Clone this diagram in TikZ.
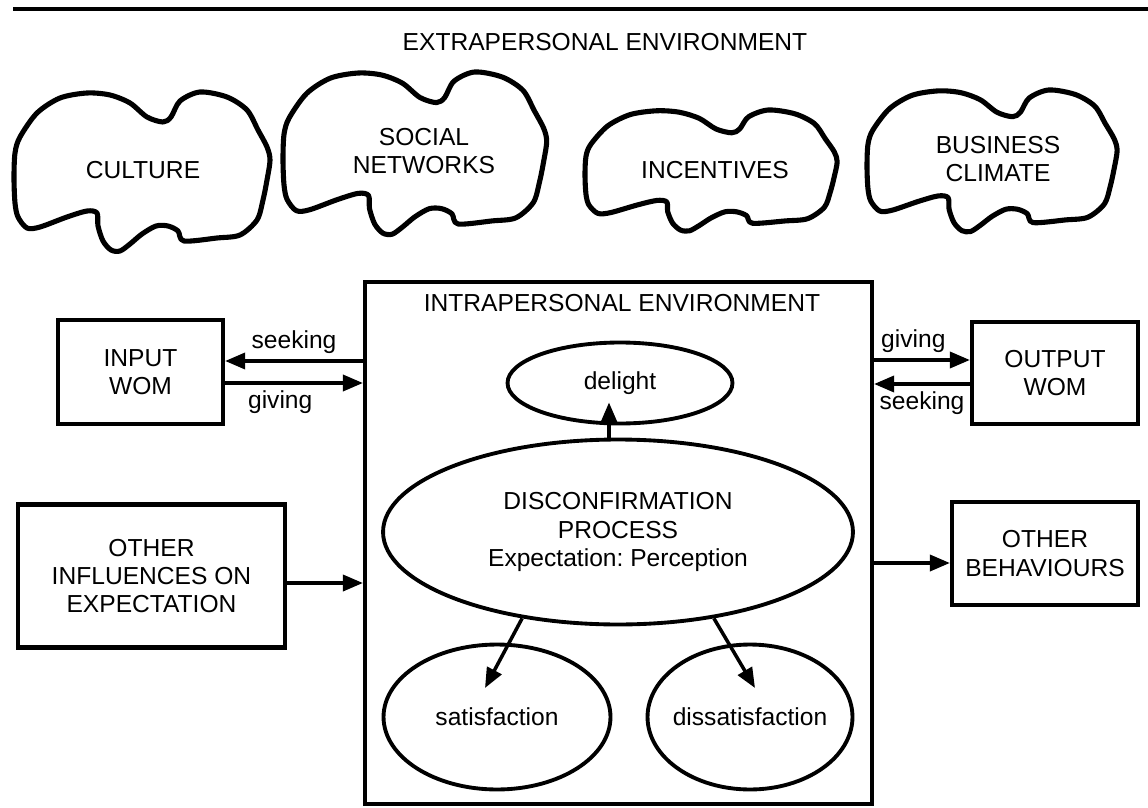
\documentclass[tikz,border=0pt]{standalone}
\usepackage{fontspec}
\setsansfont{Liberation Sans}
\usepackage{tikz}
\usetikzlibrary{arrows.meta,shapes.geometric,calc}
\frenchspacing

\newcommand{\blob}[4]{%
  \draw[cloudline, shift={(#1,#2)}, xscale=#3, yscale=#4]
    plot[smooth cycle] coordinates {(1,61) (6,45) (23,21) (46,6) (73,1) (96,3)
      (116,11) (133,25) (149,30) (157,25) (166,9) (186,0) (213,5) (233,18)
      (244,38) (253,55) (256,68) (253,88) (249,108) (243,128) (226,143)
      (203,146) (170,149) (164,139) (154,134) (142,134) (128,142) (116,152)
      (106,159) (97,158) (89,149) (84,134) (83,121) (73,119) (53,125)
      (26,135) (13,136) (4,125) (1,111) (0,86)};}

\begin{document}
\begin{tikzpicture}[
  x=0.02cm, y=-0.02cm,
  font=\sffamily\fontsize{14}{16}\selectfont,
  box/.style={draw, rectangle, line width=2.4pt, align=center, inner sep=0pt},
  oval/.style={draw, ellipse, line width=2.2pt, align=center, inner sep=0pt},
  cloudline/.style={line width=2.9pt, line join=round},
  >={Triangle[length=4mm, width=3.2mm]},
  arrline/.style={->, line width=2pt},
]
\useasboundingbox (0,0) rectangle (1148,807);
\draw[line width=1.8pt] (13,9) -- (1148,9);
\node (extra) at (605,42) {EXTRAPERSONAL ENVIRONMENT};

% clouds
\blob{14}{92}{1}{1}
\blob{283}{72}{1.03}{1.02}
\blob{585}{110}{0.985}{0.76}
\blob{867}{90}{0.977}{0.89}
\node (culture) at (143,170) {CULTURE};
\node[align=center] (social) at (424,151) {SOCIAL\\NETWORKS};
\node (incent) at (715,170) {INCENTIVES};
\node[align=center] (climate) at (998,159) {BUSINESS\\CLIMATE};

% intrapersonal box
\node[box, minimum width=10.14cm, minimum height=10.44cm] (intra) at (618.5,543) {};
\node (intratitle) at (622,303) {INTRAPERSONAL ENVIRONMENT};
\node[oval, minimum width=4.5cm, minimum height=1.62cm] (delight) at (620,383) {delight};
\node[oval, minimum width=9.4cm, minimum height=3.7cm] (disc) at (618,532)
  {DISCONFIRMATION\\PROCESS\\Expectation: Perception};
\node[oval, minimum width=4.54cm, minimum height=2.9cm] (sat) at (497,717) {satisfaction};
\node[oval, minimum width=4.1cm, minimum height=2.9cm, inner xsep=-0.25cm] (dissat) at (750,717) {dissatisfaction};

% outside boxes
\node[box, minimum width=3.3cm, minimum height=2.08cm] (inwom) at (140.5,372) {INPUT\\WOM};
\node[box, minimum width=5.34cm, minimum height=2.86cm] (otherinf) at (151.5,576) {OTHER\\INFLUENCES ON\\EXPECTATION};
\node[box, minimum width=3.32cm, minimum height=2.04cm] (outwom) at (1055,373) {OUTPUT\\WOM};
\node[box, minimum width=3.72cm, minimum height=2.06cm] (otherbeh) at (1045,553.5) {OTHER\\BEHAVIOURS};

% connectors
\path ($(inwom.east)+(0,-11)$) coordinate (seekin)
      ($(inwom.east)+(0,11)$) coordinate (givein)
      ($(outwom.west)+(0,-13)$) coordinate (giveout)
      ($(outwom.west)+(0,11)$) coordinate (seekout)
      ($(otherinf.east)+(0,7)$) coordinate (infl)
      ($(otherbeh.west)+(0,9.5)$) coordinate (behv);
\draw[arrline] (seekin -| intra.west) -- (seekin) node[midway, above] {seeking};
\draw[arrline] (givein) -- (givein -| intra.west) node[pos=0.4, below] {giving};
\draw[arrline] (giveout -| intra.east) -- (giveout) node[pos=0.41, above] {giving};
\draw[arrline] (seekout) -- (seekout -| intra.east) node[midway, below] {seeking};
\draw[arrline] (infl) -- (infl -| intra.west);
\draw[arrline] (behv -| intra.east) -- (behv);

\path ($(delight.south)+(-11,-23)$) coordinate (dtip)
      ($(sat.center)+(-12,-29)$) coordinate (stip)
      ($(dissat.center)+(5,-29)$) coordinate (xtip);
\draw[arrline] (dtip |- disc.north) -- (dtip);
\draw[arrline] (disc.222) -- (stip);
\draw[arrline] (disc.318) -- (xtip);
\end{tikzpicture}
\end{document}
